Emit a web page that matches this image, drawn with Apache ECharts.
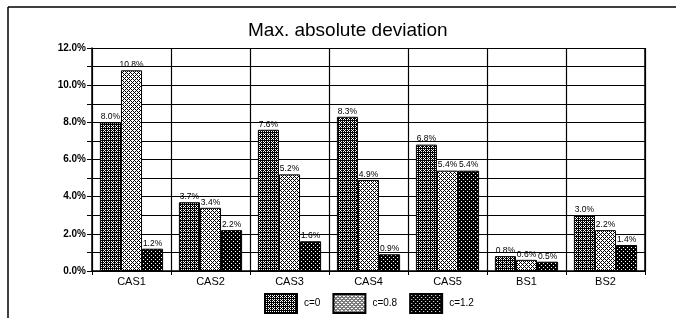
<!DOCTYPE html>
<html>
<head>
<meta charset="utf-8">
<script src="https://cdn.jsdelivr.net/npm/echarts@6/dist/echarts.min.js"></script>
<style>
html, body { margin: 0; padding: 0; background: #fff; }
#chart { width: 676px; height: 318px; }
</style>
</head>
<body>
<div id="chart"></div>
<script>
var categories = ['CAS1', 'CAS2', 'CAS3', 'CAS4', 'CAS5', 'BS1', 'BS2'];
var seriesNames = ['c=0', 'c=0.8', 'c=1.2'];
var valuesC0 = [8.0, 3.7, 7.6, 8.3, 6.8, 0.8, 3.0];
var valuesC08 = [10.8, 3.4, 5.2, 4.9, 5.4, 0.6, 2.2];
var valuesC12 = [1.2, 2.2, 1.6, 0.9, 5.4, 0.5, 1.4];

// dotted fills like the old printout
function makePattern(bg, fg, pts) {
    var c = document.createElement('canvas');
    c.width = 4; c.height = 4;
    var ctx = c.getContext('2d');
    ctx.fillStyle = bg;
    ctx.fillRect(0, 0, 4, 4);
    ctx.fillStyle = fg;
    pts.forEach(function (p) { ctx.fillRect(p[0], p[1], 1, 1); });
    return { image: c, repeat: 'repeat' };
}
var fill0 = makePattern('#000', '#fff', [[1, 1], [3, 3], [1, 3], [3, 1], [0, 2]]);
var fill08 = makePattern('#fff', '#000', [[1, 1], [3, 3], [1, 3], [3, 1], [0, 2], [2, 0]]);
var fill12 = makePattern('#000', '#fff', [[1, 1], [3, 3]]);

var chart = echarts.init(document.getElementById('chart'));

function bar(name, data, fill) {
    return {
        name: name,
        type: 'bar',
        data: data,
        barGap: 0,
        barCategoryGap: '20%',
        itemStyle: { color: fill, borderColor: '#000', borderWidth: 1 },
        label: {
            show: true,
            position: 'top',
            distance: 1,
            fontSize: 8.5,
            fontFamily: 'Liberation Sans',
            color: '#000',
            formatter: function (p) { return p.value.toFixed(1) + '%'; }
        }
    };
}

var option = {
    animation: false,
    backgroundColor: '#fff',
    title: {
        text: 'Max. absolute deviation',
        left: 243,
        top: 16,
        textStyle: { fontSize: 19, fontWeight: 'normal', fontFamily: 'Liberation Sans', color: '#000' }
    },
    legend: {
        data: seriesNames,
        bottom: 4,
        left: 264,
        padding: 0,
        itemWidth: 32,
        itemHeight: 19,
        itemGap: 12,
        icon: 'rect',
        textStyle: { fontSize: 10, fontFamily: 'Liberation Sans', color: '#000', padding: [0, 0, 0, 2] }
    },
    grid: { left: 92, right: 31, top: 48, bottom: 47 },
    xAxis: {
        type: 'category',
        data: categories,
        axisLine: { lineStyle: { color: '#000', width: 1.5 } },
        axisTick: { show: true, length: 4, lineStyle: { color: '#000' } },
        axisLabel: { fontSize: 11, fontFamily: 'Liberation Sans', color: '#000', margin: 5 },
        splitLine: { show: true, lineStyle: { color: '#000', width: 1.2 } }
    },
    yAxis: {
        type: 'value',
        min: 0,
        max: 12,
        interval: 1,
        axisLine: { show: true, lineStyle: { color: '#000', width: 1.5 } },
        axisTick: { show: true, length: 5, lineStyle: { color: '#000' } },
        axisLabel: {
            fontSize: 10,
            fontWeight: 'bold',
            fontFamily: 'Liberation Sans',
            color: '#000',
            margin: 6,
            formatter: function (v) { return v % 2 === 0 ? v.toFixed(1) + '%' : ''; }
        },
        splitLine: { show: true, lineStyle: { color: '#000', width: 1.2 } }
    },
    graphic: [
        { type: 'line', shape: { x1: 8, y1: 7, x2: 676, y2: 7 }, style: { stroke: '#000', lineWidth: 1.5 } },
        { type: 'line', shape: { x1: 8, y1: 7, x2: 8, y2: 318 }, style: { stroke: '#000', lineWidth: 1.5 } },
        { type: 'line', shape: { x1: 645, y1: 48, x2: 645, y2: 271 }, style: { stroke: '#000', lineWidth: 1.5 } }
    ],
    series: [
        bar(seriesNames[0], valuesC0, fill0),
        bar(seriesNames[1], valuesC08, fill08),
        bar(seriesNames[2], valuesC12, fill12)
    ]
};

chart.setOption(option);
</script>
</body>
</html>
